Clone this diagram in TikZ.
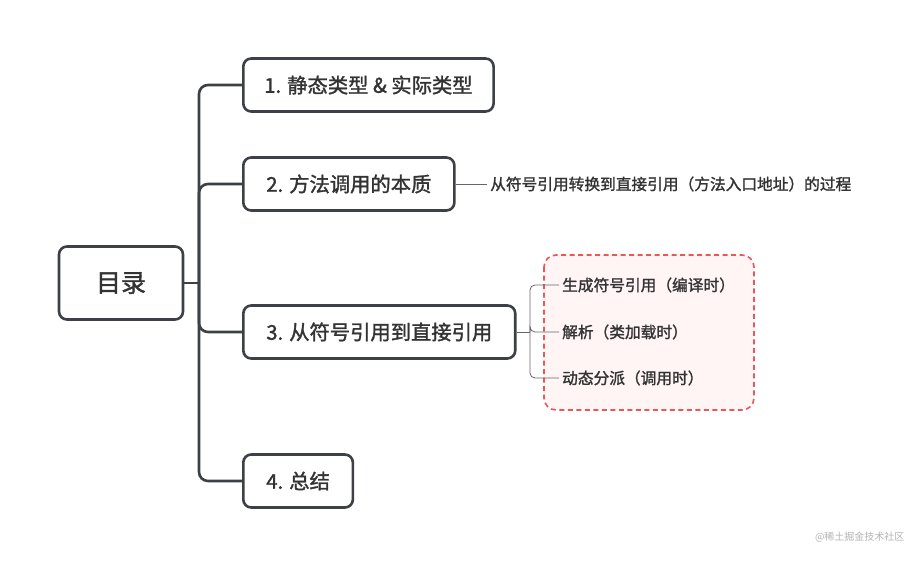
\documentclass[tikz,border=0pt]{standalone}
\usepackage{fontspec}
\setmainfont[FakeBold=1.5]{Noto Sans CJK SC}
\newfontfamily\plaincjk{Noto Sans CJK SC}
\usetikzlibrary{positioning}
\definecolor{ink}{HTML}{3E4047}
\definecolor{txt}{HTML}{333333}
\definecolor{warn}{HTML}{E8585B}
\definecolor{blush}{HTML}{FFF5F5}
\definecolor{wmgray}{HTML}{B3B3B3}

\begin{document}
\begin{tikzpicture}[x=1pt,y=-1pt,
  topic/.style={draw=ink,line width=2.6pt,rounded corners=8pt,fill=white,text=txt,
    font=\fontsize{20.3}{23}\selectfont,inner xsep=23pt,minimum height=53pt,anchor=west},
  note/.style={text=txt,font=\fontsize{15.7}{18}\selectfont,inner sep=3pt,anchor=west},
  branch/.style={draw=ink,line width=2.6pt,rounded corners=9pt},
  twig/.style={draw=ink!80,line width=0.8pt,rounded corners=5pt}]
\fill[white] (0,0) rectangle (910,588);
\useasboundingbox (0,0) rectangle (910,588);
% root and the four topics
\node[topic,anchor=center,minimum width=124pt,minimum height=73pt,
  font=\fontsize{25}{28}\selectfont] (root) at (121,283) {目录};
\coordinate (hub) at (199,283);
\node[topic,inner xsep=21pt] (b1) at (242,85) {1. 静态类型 \& 实际类型};
\node[topic] (b2) at (242,184) {2. 方法调用的本质};
\node[topic] (b3) at (242,332) {3. 从符号引用到直接引用};
\node[topic] (b4) at (242,481) {4. 总结};
\draw[branch] (root.east) -- (hub);
\foreach \n in {b1,b2,b3,b4}
  \draw[branch] (hub) |- (\n.west);
% note of topic 2
\node[note] (n2) at (487,184) {从符号引用转换到直接引用（方法入口地址）的过程};
\draw[twig] (b2.east) -- (n2.west);
% group of topic 3
\draw[warn,fill=blush,line width=1.6pt,rounded corners=12pt,dash pattern=on 5pt off 3.5pt]
  (544,255) rectangle (754,410);
\coordinate (fork) at (530,332);
\node[note] (c1) at (559,285) {生成符号引用（编译时）};
\node[note] (c2) at (559,332) {解析（类加载时）};
\node[note] (c3) at (559,378) {动态分派（调用时）};
\draw[twig] (b3.east) -- (fork);
\foreach \c in {c1,c2,c3}
  \draw[twig] (fork) |- (\c.west);
\node[text=wmgray,font=\plaincjk\fontsize{10}{12}\selectfont,anchor=east] (wm) at (908,537) {@稀土掘金技术社区};
\end{tikzpicture}
\end{document}
